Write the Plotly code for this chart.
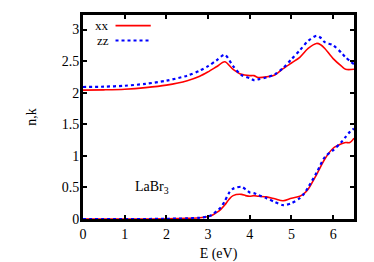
import plotly.graph_objects as go

E_n = [0, 0.5, 1.0, 1.5, 2.0, 2.5, 2.8, 3.0, 3.2, 3.4, 3.6, 3.8, 4.0, 4.1, 4.2, 4.4,
       4.6, 4.8, 5.0, 5.2, 5.4, 5.6, 5.7, 5.8, 6.0, 6.2, 6.3, 6.5]
n_xx = [2.04, 2.045, 2.055, 2.08, 2.12, 2.19, 2.26, 2.33, 2.41, 2.49, 2.37, 2.29, 2.27,
        2.27, 2.24, 2.25, 2.28, 2.38, 2.47, 2.56, 2.70, 2.78, 2.76, 2.70, 2.54, 2.42,
        2.37, 2.37]
n_zz = [2.09, 2.095, 2.11, 2.14, 2.19, 2.27, 2.35, 2.42, 2.51, 2.60, 2.42, 2.28, 2.23,
        2.20, 2.21, 2.24, 2.29, 2.39, 2.53, 2.67, 2.82, 2.90, 2.87, 2.80, 2.75, 2.63,
        2.56, 2.45]

E_k = [0, 1.5, 2.0, 2.5, 2.8, 3.0, 3.1, 3.2, 3.3, 3.4, 3.5, 3.6, 3.8, 3.9, 4.0, 4.1,
       4.2, 4.4, 4.6, 4.8, 5.0, 5.2, 5.3, 5.4, 5.6, 5.8, 6.0, 6.2, 6.3, 6.4, 6.5]
k_xx = [0, 0, 0.003, 0.01, 0.02, 0.04, 0.06, 0.10, 0.15, 0.22, 0.31, 0.37, 0.39, 0.37,
        0.36, 0.37, 0.36, 0.35, 0.32, 0.29, 0.33, 0.36, 0.40, 0.47, 0.70, 0.95, 1.12,
        1.19, 1.21, 1.21, 1.28]
k_zz = [0, 0, 0.003, 0.01, 0.02, 0.04, 0.07, 0.12, 0.18, 0.28, 0.41, 0.48, 0.51, 0.47,
        0.42, 0.41, 0.38, 0.33, 0.27, 0.22, 0.25, 0.33, 0.40, 0.50, 0.73, 0.98, 1.09,
        1.22, 1.30, 1.38, 1.43]

x_ticks = [0, 1, 2, 3, 4, 5, 6]
y_ticks = [0, 0.5, 1, 1.5, 2, 2.5, 3]
y_tick_labels = ["0", "0.5", "1", "1.5", "2", "2.5", "3"]

RED = "rgb(255,0,0)"
BLUE = "rgb(0,0,255)"
FONT = "Liberation Serif"

fig = go.Figure()
for x, y, c, d, w in [(E_n, n_xx, RED, "solid", 1.6), (E_n, n_zz, BLUE, "dot", 2.2),
                      (E_k, k_xx, RED, "solid", 1.6), (E_k, k_zz, BLUE, "dot", 2.2)]:
    fig.add_trace(go.Scatter(x=x, y=y, mode="lines",
                             line=dict(color=c, dash=d, width=w, shape="spline", smoothing=0.8),
                             showlegend=False, hoverinfo="skip"))

axis_common = dict(showline=True, linecolor="black", linewidth=3, mirror="ticks",
                   ticks="inside", ticklen=4, tickwidth=1.5, tickcolor="black",
                   showgrid=False, zeroline=False, automargin=False,
                   tickfont=dict(family=FONT, size=14, color="black"))

fig.update_layout(
    width=366, height=254,
    margin=dict(l=75, r=20, t=7, b=43),
    paper_bgcolor="white", plot_bgcolor="white",
    font=dict(family=FONT, size=14, color="black"),
    xaxis=dict(range=[0, 6.5], tickvals=x_ticks,
               title=dict(text="E (eV)", font=dict(family=FONT, size=14), standoff=18),
               **axis_common),
    yaxis=dict(range=[0, 3.23], tickvals=y_ticks, ticktext=y_tick_labels,
               ticklabelstandoff=-2,
               title=dict(text="n,k", font=dict(family=FONT, size=14), standoff=22),
               **axis_common),
)

# legend (gnuplot style: label then sample)
for label, yp, c, d, w in [("xx", 0.948, RED, "solid", 1.6), ("zz", 0.875, BLUE, "dot", 2.2)]:
    fig.add_annotation(x=0.105, y=yp, xref="paper", yref="paper", text=label,
                       showarrow=False, xanchor="right", yanchor="middle",
                       font=dict(family=FONT, size=13, color="black"))
    fig.add_shape(type="line", xref="paper", yref="paper", x0=0.12, x1=0.25, y0=yp, y1=yp,
                  line=dict(color=c, dash=d, width=w))

fig.add_annotation(x=0.185, y=0.155, xref="paper", yref="paper", text="LaBr<sub>3</sub>",
                   showarrow=False, xanchor="left", yanchor="middle",
                   font=dict(family=FONT, size=14, color="black"))

fig.write_html("out.html")
